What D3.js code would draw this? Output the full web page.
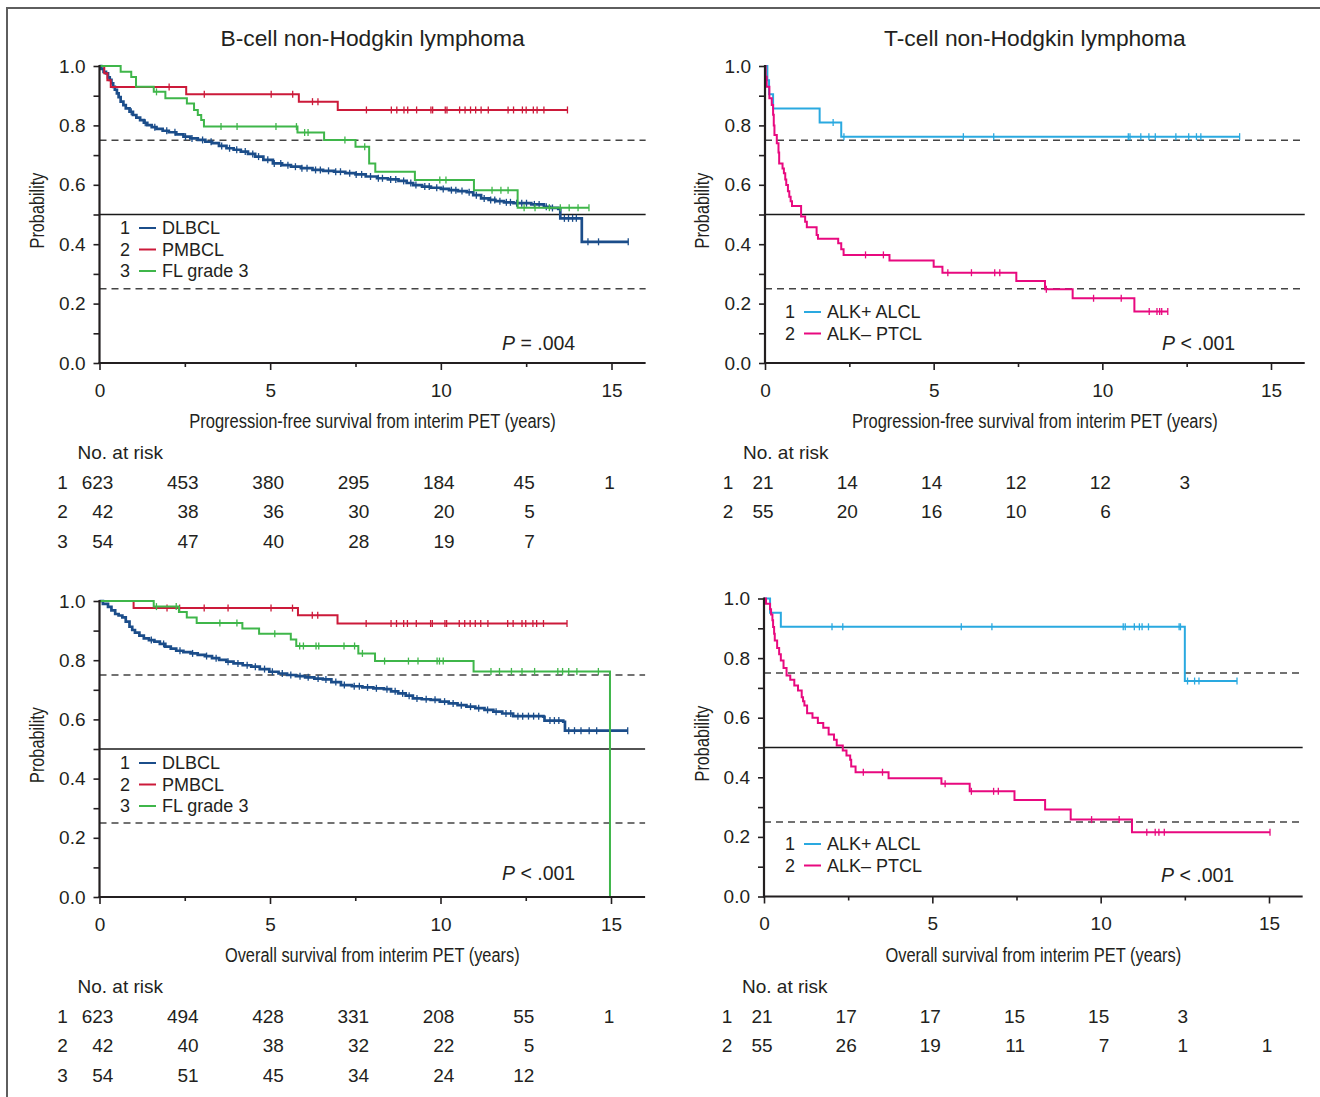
<!DOCTYPE html>
<html><head><meta charset="utf-8">
<script src="https://cdn.jsdelivr.net/npm/d3@7"></script>
<style>body{margin:0;background:#fff}svg{display:block}</style>
</head><body>
<svg id="chart" width="1320" height="1097"></svg>
<script>
// ---------- DATA ----------
const xTickValues = [0, 2.5, 5, 7.5, 10, 12.5, 15];
const xTickLabels = {0: "0", 5: "5", 10: "10", 15: "15"};
const yTickValues = [0, 0.1, 0.2, 0.3, 0.4, 0.5, 0.6, 0.7, 0.8, 0.9, 1.0];
const yTickLabels = {0: "0.0", 0.2: "0.2", 0.4: "0.4", 0.6: "0.6", 0.8: "0.8", 1: "1.0"};
const refLines = [0.25, 0.5, 0.75];
const riskTimes = [0, 2.5, 5, 7.5, 10, 12.5, 15];

const bCellSeries = ["DLBCL", "PMBCL", "FL grade 3"];
const tCellSeries = ["ALK+ ALCL", "ALK\u2013 PTCL"];

// B-cell PFS
const bPfsDLBCL = [[0,1],[0.05,0.99],[0.12,0.98],[0.19,0.975],[0.25,0.962],[0.30,0.953],[0.35,0.942],[0.40,0.930],[0.45,0.92],[0.51,0.908],[0.56,0.895],[0.62,0.880],[0.70,0.868],[0.77,0.857],[0.88,0.846],[0.98,0.835],[1.08,0.826],[1.19,0.818],[1.30,0.809],[1.40,0.801],[1.53,0.794],[1.67,0.788],[1.85,0.782],[2.03,0.777],[2.25,0.770],[2.46,0.762],[2.66,0.756],[2.88,0.751],[3.10,0.745],[3.30,0.740],[3.50,0.731],[3.72,0.723],[3.93,0.718],[4.14,0.712],[4.35,0.704],[4.56,0.695],[4.80,0.684],[5.08,0.672],[5.35,0.666],[5.61,0.661],[5.90,0.656],[6.24,0.650],[6.55,0.647],[6.87,0.644],[7.20,0.639],[7.50,0.635],[7.80,0.628],[8.13,0.622],[8.45,0.618],[8.76,0.613],[9.00,0.606],[9.19,0.599],[9.45,0.594],[9.71,0.590],[10.0,0.586],[10.24,0.582],[10.50,0.579],[10.76,0.575],[10.95,0.565],[11.18,0.554],[11.40,0.549],[11.60,0.545],[11.85,0.541],[12.13,0.538],[12.65,0.534],[13.02,0.526],[13.20,0.522],[13.44,0.519],[13.50,0.487],[14.13,0.408],[15.49,0.408]];
const bPfsDLBCLCens = [0.93,1.34,1.62,1.97,2.21,2.52,2.71,3.02,3.27,3.58,3.81,4.02,4.27,4.49,4.66,4.93,5.12,5.31,5.52,5.74,5.93,6.08,6.33,6.47,6.71,6.92,7.06,7.33,7.52,7.68,7.94,8.17,8.29,8.53,8.68,8.91,9.12,9.27,9.53,9.66,9.88,10.07,10.31,10.44,10.62,10.83,11.04,11.27,11.46,11.58,11.73,11.92,12.04,12.22,12.37,12.51,12.74,12.88,13.09,13.27,13.62,13.74,13.86,13.97,14.31,14.62,15.49];
const bPfsPMBCL = [[0,1],[0.14,0.976],[0.23,0.952],[0.33,0.929],[2.54,0.905],[5.84,0.880],[6.98,0.852],[13.71,0.852]];
const bPfsPMBCLCens = [2.04,3.07,5.03,5.66,6.24,6.40,7.82,8.55,8.71,8.92,9.03,9.29,9.71,9.76,10.13,10.18,10.55,10.71,10.87,11.02,11.18,11.39,11.97,12.13,12.39,12.50,12.71,12.82,13.02,13.71];
const bPfsFL = [[0,1],[0.62,0.981],[0.93,0.963],[1.07,0.930],[1.59,0.913],[1.93,0.891],[2.56,0.874],[2.77,0.852],[2.88,0.835],[2.98,0.818],[3.06,0.796],[5.80,0.776],[6.58,0.751],[7.50,0.728],[7.90,0.672],[8.08,0.644],[9.24,0.616],[10.97,0.582],[12.25,0.523],[14.34,0.523]];
const bPfsFLCens = [1.67,3.56,4.03,5.17,5.77,6.01,6.11,7.19,7.77,9.97,10.15,11.50,11.76,11.97,12.44,12.76,13.18,13.50,13.76,14.02,14.34];

// B-cell OS
const bOsDLBCL = [[0,1],[0.10,0.99],[0.25,0.98],[0.35,0.968],[0.46,0.956],[0.56,0.951],[0.67,0.945],[0.77,0.930],[0.88,0.913],[0.96,0.902],[1.04,0.893],[1.17,0.883],[1.30,0.874],[1.45,0.868],[1.61,0.863],[1.77,0.855],[1.93,0.846],[2.09,0.839],[2.25,0.832],[2.46,0.827],[2.67,0.823],[2.88,0.818],[3.09,0.814],[3.30,0.807],[3.51,0.801],[3.72,0.795],[3.93,0.789],[4.20,0.783],[4.45,0.778],[4.70,0.770],[4.98,0.761],[5.25,0.755],[5.50,0.750],[5.76,0.746],[6.03,0.742],[6.30,0.738],[6.55,0.735],[6.80,0.726],[7.08,0.716],[7.40,0.712],[7.71,0.708],[8.03,0.705],[8.34,0.702],[8.55,0.695],[8.76,0.688],[8.98,0.680],[9.19,0.671],[9.45,0.668],[9.71,0.666],[9.98,0.660],[10.24,0.654],[10.50,0.648],[10.76,0.643],[11.02,0.638],[11.29,0.632],[11.55,0.626],[11.81,0.620],[12.13,0.611],[13.02,0.609],[13.05,0.596],[13.60,0.592],[13.65,0.562],[15.49,0.562]];
const bOsDLBCLCens = [1.52,1.88,2.36,2.73,3.14,3.42,3.77,4.06,4.33,4.57,4.84,5.07,5.36,5.61,5.88,6.12,6.41,6.64,6.93,7.18,7.47,7.62,7.86,8.12,8.43,8.67,8.89,9.08,9.31,9.58,9.84,10.12,10.37,10.61,10.88,11.12,11.38,11.63,11.92,12.06,12.27,12.41,12.58,12.73,12.88,13.21,13.34,13.47,13.76,13.93,14.12,14.36,14.58,15.49];
const bOsPMBCL = [[0,1],[1.0,0.976],[5.82,0.952],[6.98,0.924],[13.71,0.924]];
const bOsPMBCLCens = [1.98,2.35,3.07,3.77,5.03,5.66,6.24,6.40,7.82,8.55,8.71,8.92,9.03,9.29,9.71,9.76,10.13,10.18,10.55,10.71,10.87,11.02,11.18,11.39,11.97,12.13,12.39,12.50,12.71,12.82,13.02,13.71];
const bOsFL = [[0,1],[1.59,0.981],[2.33,0.963],[2.56,0.944],[2.85,0.926],[4.19,0.907],[4.68,0.889],[5.61,0.870],[5.77,0.848],[7.59,0.823],[8.08,0.797],[10.97,0.762],[14.97,0]];
const bOsFLCens = [1.67,2.25,3.53,4.03,5.14,5.87,5.98,6.35,6.43,7.17,7.48,7.71,8.36,9.06,9.34,9.90,9.97,10.08,11.48,11.73,12.08,12.39,12.76,13.44,13.58,13.76,14.00,14.63];

// T-cell PFS
const tPfsALKpos = [[0,1],[0.07,0.952],[0.12,0.905],[0.24,0.857],[1.62,0.810],[2.26,0.762],[14.07,0.762]];
const tPfsALKposCens = [2.02,2.34,5.88,6.78,10.77,10.82,11.14,11.38,11.57,12.18,12.56,12.79,12.92,14.07];
const tPfsALKneg = [[0,1],[0.02,0.964],[0.05,0.930],[0.13,0.891],[0.20,0.869],[0.24,0.836],[0.26,0.800],[0.28,0.768],[0.35,0.740],[0.40,0.709],[0.42,0.672],[0.52,0.655],[0.56,0.639],[0.60,0.618],[0.63,0.599],[0.68,0.578],[0.72,0.560],[0.76,0.545],[0.80,0.529],[1.07,0.493],[1.19,0.476],[1.24,0.457],[1.53,0.431],[1.57,0.418],[2.17,0.403],[2.26,0.383],[2.33,0.364],[3.69,0.345],[5.00,0.324],[5.26,0.304],[7.45,0.276],[8.30,0.248],[9.12,0.218],[10.95,0.173],[11.94,0.173]];
const tPfsALKnegCens = [2.98,3.51,5.42,6.12,6.81,6.96,8.34,9.74,10.56,11.39,11.62,11.70,11.76,11.94];

// T-cell OS
const tOsALKpos = [[0,1],[0.18,0.952],[0.50,0.905],[12.50,0.723],[14.05,0.723]];
const tOsALKposCens = [2.02,2.34,5.86,6.77,10.67,10.73,11.00,11.15,11.23,11.42,12.33,12.37,12.58,12.79,12.92,14.05];
const tOsALKneg = [[0,1],[0.06,0.982],[0.18,0.964],[0.21,0.946],[0.25,0.927],[0.27,0.904],[0.30,0.882],[0.32,0.859],[0.39,0.834],[0.45,0.813],[0.50,0.792],[0.58,0.767],[0.67,0.742],[0.78,0.727],[0.90,0.708],[1.01,0.691],[1.12,0.669],[1.16,0.655],[1.20,0.641],[1.28,0.615],[1.44,0.600],[1.60,0.582],[1.76,0.566],[1.92,0.544],[2.08,0.526],[2.16,0.507],[2.34,0.490],[2.45,0.473],[2.56,0.459],[2.59,0.436],[2.72,0.417],[3.70,0.397],[5.27,0.378],[6.11,0.353],[7.44,0.324],[8.35,0.292],[9.11,0.258],[10.93,0.216],[15.03,0.216]];
const tOsALKnegCens = [2.95,3.52,5.38,6.16,6.82,6.96,9.73,10.55,11.37,11.62,11.73,11.89,15.03];

// Numbers at risk (null = blank)
const riskBPfs = [[623,453,380,295,184,45,1],[42,38,36,30,20,5,null],[54,47,40,28,19,7,null]];
const riskTPfs = [[21,14,14,12,12,3,null],[55,20,16,10,6,null,null]];
const riskBOs = [[623,494,428,331,208,55,1],[42,40,38,32,22,5,null],[54,51,45,34,24,12,null]];
const riskTOs = [[21,17,17,15,15,3,null],[55,26,19,11,7,1,1]];

const pValues = ["= .004", "< .001", "< .001", "< .001"];
const titles = ["B-cell non-Hodgkin lymphoma", "T-cell non-Hodgkin lymphoma"];
const xTitles = ["Progression-free survival from interim PET (years)", "Overall survival from interim PET (years)"];

// ---------- STYLE / LAYOUT ----------
const COLORS = {DLBCL: "#1b4d8a", PMBCL: "#cc1a3a", FL: "#3fb64a", ALKpos: "#2aa9e0", ALKneg: "#e8097f"};
const INK = "#231f20";
const FONT = "'Liberation Sans', Arial, Helvetica, sans-serif";

const svg = d3.select("#chart");
svg.append("rect").attr("width", 1320).attr("height", 1097).attr("fill", "#fff");
svg.append("path").attr("d", "M7,1100 L7,8 L1325,8").attr("fill", "none").attr("stroke", "#5e5e5e").attr("stroke-width", 2);

const panels = [
  {x0: 99.5, x15: 611.5, yTop: 66, yBot: 363, ylabX: 37,
   series: [{d: bPfsDLBCL, c: bPfsDLBCLCens, col: COLORS.DLBCL, w: 2.7},
            {d: bPfsPMBCL, c: bPfsPMBCLCens, col: COLORS.PMBCL, w: 2},
            {d: bPfsFL, c: bPfsFLCens, col: COLORS.FL, w: 2}],
   legend: bCellSeries, legCols: [COLORS.DLBCL, COLORS.PMBCL, COLORS.FL], legX: 125, legY: 228,
   p: pValues[0], pX: 502, pY: 343, xTitle: xTitles[0], xTitleLen: 367, title: titles[0],
   risk: riskBPfs, riskY: 452},
  {x0: 765, x15: 1271, yTop: 66, yBot: 363, ylabX: 702,
   series: [{d: tPfsALKpos, c: tPfsALKposCens, col: COLORS.ALKpos, w: 2},
            {d: tPfsALKneg, c: tPfsALKnegCens, col: COLORS.ALKneg, w: 2}],
   legend: tCellSeries, legCols: [COLORS.ALKpos, COLORS.ALKneg], legX: 790, legY: 312,
   p: pValues[1], pX: 1162, pY: 343, xTitle: xTitles[0], xTitleLen: 366, title: titles[1],
   risk: riskTPfs, riskY: 452},
  {x0: 99.5, x15: 611, yTop: 601, yBot: 897, ylabX: 37,
   series: [{d: bOsDLBCL, c: bOsDLBCLCens, col: COLORS.DLBCL, w: 2.7},
            {d: bOsPMBCL, c: bOsPMBCLCens, col: COLORS.PMBCL, w: 2},
            {d: bOsFL, c: bOsFLCens, col: COLORS.FL, w: 2}],
   legend: bCellSeries, legCols: [COLORS.DLBCL, COLORS.PMBCL, COLORS.FL], legX: 125, legY: 763,
   p: pValues[2], pX: 502, pY: 873, xTitle: xTitles[1], xTitleLen: 295, title: null,
   risk: riskBOs, riskY: 986},
  {x0: 764, x15: 1269, yTop: 598.5, yBot: 896.5, ylabX: 702,
   series: [{d: tOsALKpos, c: tOsALKposCens, col: COLORS.ALKpos, w: 2},
            {d: tOsALKneg, c: tOsALKnegCens, col: COLORS.ALKneg, w: 2}],
   legend: tCellSeries, legCols: [COLORS.ALKpos, COLORS.ALKneg], legX: 790, legY: 844,
   p: pValues[3], pX: 1161, pY: 875, xTitle: xTitles[1], xTitleLen: 296, title: null,
   risk: riskTOs, riskY: 986}
];

function survAt(pts, t) {
  let s = pts[0][1];
  for (const p of pts) { if (p[0] <= t + 1e-9) s = p[1]; else break; }
  return s;
}

// condensed text: draw at a size, then squeeze horizontally with a scale transform
function condensedText(parent, cx, cy, rotate, txt, size, target) {
  const g = parent.append("g");
  const t = g.append("text").attr("text-anchor", "middle").attr("dy", "0.35em")
    .style("font-family", FONT).style("font-size", size + "px").attr("fill", INK).text(txt);
  const w = t.node().getComputedTextLength();
  const sx = w > 0 ? target / w : 1;
  g.attr("transform", `translate(${cx},${cy})` + (rotate ? ` rotate(${rotate})` : "") + ` scale(${sx.toFixed(4)},1)`);
  return g;
}

panels.forEach(P => {
  const x = d3.scaleLinear().domain([0, 15]).range([P.x0, P.x15]);
  const y = d3.scaleLinear().domain([0, 1]).range([P.yBot, P.yTop]);
  const g = svg.append("g");
  const xEnd = x(16);

  // reference lines
  refLines.forEach(v => {
    g.append("line").attr("x1", x(0)).attr("x2", xEnd).attr("y1", y(v)).attr("y2", y(v))
      .attr("stroke", v === 0.5 ? "#1a1a1a" : "#444")
      .attr("stroke-width", v === 0.5 ? 1.3 : 1.4)
      .attr("stroke-dasharray", v === 0.5 ? null : "7,5");
  });

  // curves
  const line = d3.line().x(d => x(d[0])).y(d => y(d[1])).curve(d3.curveStepAfter);
  P.series.forEach(s => {
    g.append("path").datum(s.d).attr("d", line).attr("fill", "none")
      .attr("stroke", s.col).attr("stroke-width", s.w).attr("stroke-linejoin", "miter");
    g.selectAll(null).data(s.c).enter().append("line")
      .attr("x1", t => x(t)).attr("x2", t => x(t))
      .attr("y1", t => y(survAt(s.d, t)) - 3.5).attr("y2", t => y(survAt(s.d, t)) + 3.5)
      .attr("stroke", s.col).attr("stroke-width", 1.3);
  });

  // y axis
  const ya = g.append("g").attr("transform", `translate(${x(0)},0)`)
    .call(d3.axisLeft(y).tickValues(yTickValues).tickSize(6).tickPadding(8).tickSizeOuter(0)
      .tickFormat(v => yTickLabels[Math.round(v * 10) / 10] || ""));
  ya.select(".domain").remove();
  ya.selectAll(".tick line").attr("stroke", INK).attr("stroke-width", 1.6);
  ya.selectAll(".tick text").attr("fill", INK).style("font-family", FONT).style("font-size", "19px");
  g.append("line").attr("x1", x(0)).attr("x2", x(0)).attr("y1", y(0) + 1).attr("y2", y(1) - 1)
    .attr("stroke", INK).attr("stroke-width", 2.2);

  // x axis
  const xa = g.append("g").attr("transform", `translate(0,${y(0)})`)
    .call(d3.axisBottom(x).tickValues(xTickValues).tickSize(7).tickSizeOuter(0)
      .tickFormat(v => xTickLabels[v] || ""));
  xa.select(".domain").remove();
  xa.selectAll(".tick line").attr("stroke", INK).attr("stroke-width", 1.6)
    .attr("y2", v => (v % 5 === 0 ? 7 : 4));
  xa.selectAll(".tick text").attr("fill", INK).attr("y", 27).attr("dy", "0.35em")
    .style("font-family", FONT).style("font-size", "19px");
  g.append("line").attr("x1", x(0) - 1).attr("x2", xEnd).attr("y1", y(0)).attr("y2", y(0))
    .attr("stroke", INK).attr("stroke-width", 2.2);

  // y label (condensed, rotated)
  condensedText(g, P.ylabX, (y(0) + y(1)) / 2 - 4, -90, "Probability", 20, 76);

  // x title (condensed)
  condensedText(g, (x(0) + x(16)) / 2, y(0) + 58, 0, P.xTitle, 21, P.xTitleLen);

  // title
  if (P.title) {
    g.append("text").attr("x", (x(0) + x(16)) / 2).attr("y", 38).attr("dy", "0.35em")
      .attr("text-anchor", "middle").style("font-family", FONT).style("font-size", "22.8px")
      .attr("fill", INK).text(P.title);
  }

  // legend
  P.legend.forEach((name, i) => {
    const ly = P.legY + i * 21.5;
    g.append("text").attr("x", P.legX).attr("y", ly).attr("dy", "0.35em").attr("text-anchor", "middle")
      .style("font-family", FONT).style("font-size", "18px").attr("fill", INK).text(i + 1);
    g.append("line").attr("x1", P.legX + 14).attr("x2", P.legX + 31).attr("y1", ly).attr("y2", ly)
      .attr("stroke", P.legCols[i]).attr("stroke-width", 2);
    g.append("text").attr("x", P.legX + 37).attr("y", ly).attr("dy", "0.35em")
      .style("font-family", FONT).style("font-size", "18px").attr("fill", INK).text(name);
  });

  // p value
  const pt = g.append("text").attr("x", P.pX).attr("y", P.pY).attr("dy", "0.35em")
    .style("font-family", FONT).style("font-size", "19.5px").attr("fill", INK);
  pt.append("tspan").style("font-style", "italic").text("P");
  pt.append("tspan").text(" " + P.p);

  // number at risk
  const rx = P.x0 - 22;
  g.append("text").attr("x", rx).attr("y", P.riskY).attr("dy", "0.35em")
    .style("font-family", FONT).style("font-size", "19px").attr("fill", INK).text("No. at risk");
  const colEdges = riskTimes.map((t, j) => {
    const first = P.risk.find(r => r[j] !== null);
    if (!first) return null;
    const tmp = g.append("text").style("font-family", FONT).style("font-size", "19px").text(first[j]);
    const w = tmp.node().getComputedTextLength();
    tmp.remove();
    return x(t) - 2 + w / 2;
  });
  P.risk.forEach((row, i) => {
    const ry = P.riskY + 30 + i * 29.8;
    g.append("text").attr("x", P.x0 - 37).attr("y", ry).attr("dy", "0.35em").attr("text-anchor", "middle")
      .style("font-family", FONT).style("font-size", "19px").attr("fill", INK).text(i + 1);
    row.forEach((v, j) => {
      if (v === null) return;
      g.append("text").attr("x", colEdges[j]).attr("y", ry).attr("dy", "0.35em").attr("text-anchor", "end")
        .style("font-family", FONT).style("font-size", "19px").attr("fill", INK).text(v);
    });
  });
});
</script>
</body></html>
